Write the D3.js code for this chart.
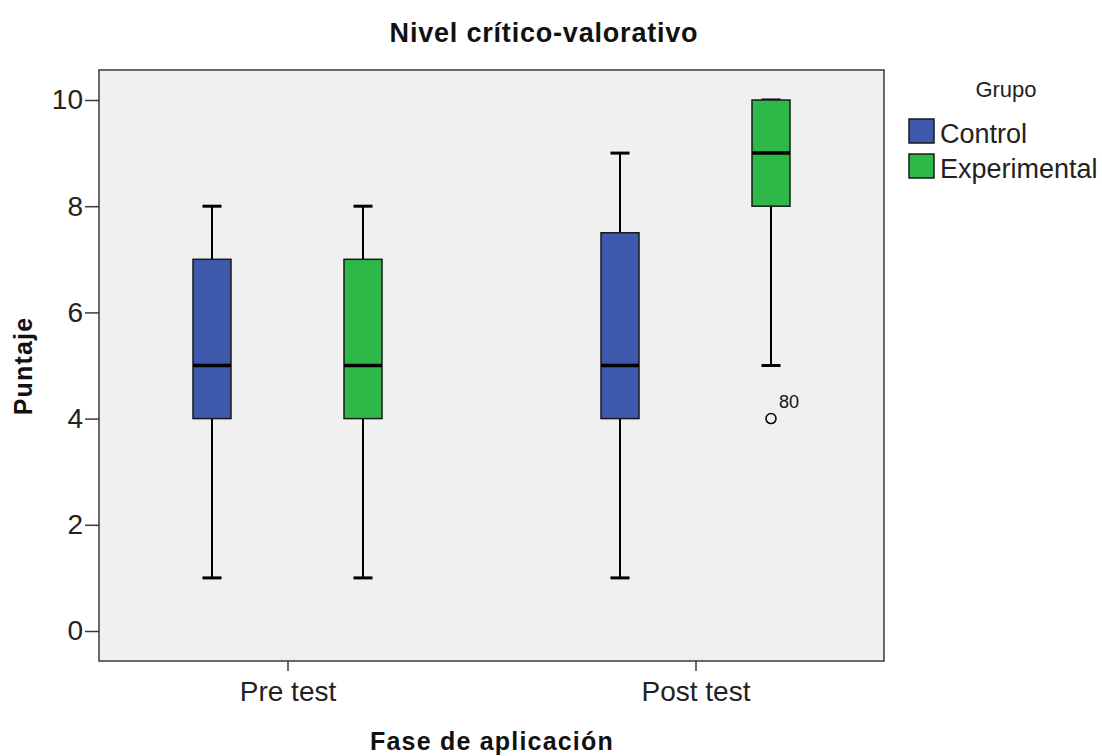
<!DOCTYPE html>
<html><head><meta charset="utf-8">
<script src="https://cdn.jsdelivr.net/npm/d3@7"></script>
<style>body{margin:0;background:#fff}text{font-family:"Liberation Sans",Arial,sans-serif}</style>
</head><body>
<svg id="c" width="1102" height="756"></svg>
<script>
const phases = ["Pre test", "Post test"];
const groups = ["Control", "Experimental"];
const groupColors = ["#3E58AC", "#2EB848"];
// five-number summaries per phase: [min, q1, median, q3, max]
const controlStats = [[1, 4, 5, 7, 8], [1, 4, 5, 7.5, 9]];
const experimentalStats = [[1, 4, 5, 7, 8], [5, 8, 9, 10, 10]];
const outliers = [{phase: "Post test", group: "Experimental", value: 4, label: "80"}];
const yTicks = [0, 2, 4, 6, 8, 10];

const svg = d3.select("#c");
const L = 99, R = 884, T = 70, B = 661;
const x = d3.scalePoint().domain(phases).range([L, R]).padding(0.462);
const xg = d3.scalePoint().domain(groups).range([-75.5, 75.5]);
const y = d3.scaleLinear().domain([0, 10]).range([631, 100]);
const color = d3.scaleOrdinal().domain(groups).range(groupColors);

svg.append("rect").attr("x", L).attr("y", T).attr("width", R - L).attr("height", B - T)
  .attr("fill", "#F0F0F0").attr("stroke", "#3a3a3a").attr("stroke-width", 1.5);

const boxes = [];
phases.forEach((p, i) => {
  boxes.push({phase: p, group: "Control", s: controlStats[i]});
  boxes.push({phase: p, group: "Experimental", s: experimentalStats[i]});
});

const bw = 38, cw = 19;
const g = svg.append("g");
boxes.forEach(b => {
  const cx = x(b.phase) + xg(b.group);
  const [mn, q1, md, q3, mx] = b.s;
  g.append("line").attr("x1", cx).attr("x2", cx).attr("y1", y(q3)).attr("y2", y(mx)).attr("stroke", "#000").attr("stroke-width", 2);
  g.append("line").attr("x1", cx).attr("x2", cx).attr("y1", y(q1)).attr("y2", y(mn)).attr("stroke", "#000").attr("stroke-width", 2);
  g.append("line").attr("x1", cx - cw/2).attr("x2", cx + cw/2).attr("y1", y(mx)).attr("y2", y(mx)).attr("stroke", "#000").attr("stroke-width", 3);
  g.append("line").attr("x1", cx - cw/2).attr("x2", cx + cw/2).attr("y1", y(mn)).attr("y2", y(mn)).attr("stroke", "#000").attr("stroke-width", 3);
  g.append("rect").attr("x", cx - bw/2).attr("y", y(q3)).attr("width", bw).attr("height", y(q1) - y(q3))
    .attr("fill", color(b.group)).attr("stroke", "#1a1a1a").attr("stroke-width", 1.5);
  g.append("line").attr("x1", cx - bw/2).attr("x2", cx + bw/2).attr("y1", y(md)).attr("y2", y(md)).attr("stroke", "#000").attr("stroke-width", 3.5);
});

outliers.forEach(o => {
  const cx = x(o.phase) + xg(o.group);
  g.append("circle").attr("cx", cx).attr("cy", y(o.value)).attr("r", 5).attr("fill", "none").attr("stroke", "#000").attr("stroke-width", 1.5);
  g.append("text").attr("x", cx + 8).attr("y", y(o.value) - 11).attr("font-size", 18).attr("fill", "#111").text(o.label);
});

// y axis
const ya = svg.append("g").attr("transform", `translate(${L},0)`)
  .call(d3.axisLeft(y).tickValues(yTicks).tickSize(14).tickPadding(2).tickFormat(d3.format("d")));
ya.select(".domain").remove();
ya.selectAll("line").attr("stroke", "#3a3a3a").attr("stroke-width", 1.5);
ya.selectAll("text").attr("font-size", 28).attr("fill", "#222").style("font-family", "Liberation Sans");

// x axis
const xa = svg.append("g").attr("transform", `translate(0,${B})`)
  .call(d3.axisBottom(x).tickSize(10).tickPadding(10));
xa.select(".domain").remove();
xa.selectAll("line").attr("stroke", "#3a3a3a").attr("stroke-width", 1.5);
xa.selectAll("text").attr("font-size", 28).attr("fill", "#222").style("font-family", "Liberation Sans");

svg.append("text").attr("x", 544).attr("y", 42).attr("text-anchor", "middle")
  .attr("font-size", 27).attr("font-weight", "bold").attr("letter-spacing", 0.8).attr("fill", "#111").text("Nivel crítico-valorativo");
svg.append("text").attr("x", 492).attr("y", 750).attr("text-anchor", "middle")
  .attr("font-size", 25).attr("font-weight", "bold").attr("letter-spacing", 1.2).attr("fill", "#111").text("Fase de aplicación");
svg.append("text").attr("transform", "translate(32,366) rotate(-90)").attr("text-anchor", "middle")
  .attr("font-size", 25).attr("font-weight", "bold").attr("letter-spacing", 1.2).attr("fill", "#111").text("Puntaje");

// legend
const lg = svg.append("g");
lg.append("text").attr("x", 1006).attr("y", 97).attr("text-anchor", "middle").attr("font-size", 22).attr("fill", "#222").text("Grupo");
groups.forEach((gname, i) => {
  lg.append("rect").attr("x", 909).attr("y", 119 + i * 35).attr("width", 25).attr("height", 24)
    .attr("fill", color(gname)).attr("stroke", "#1a1a1a").attr("stroke-width", 1.5);
  lg.append("text").attr("x", 940).attr("y", 143 + i * 35).attr("font-size", 27).attr("fill", "#222").text(gname);
});
</script>
</body></html>
